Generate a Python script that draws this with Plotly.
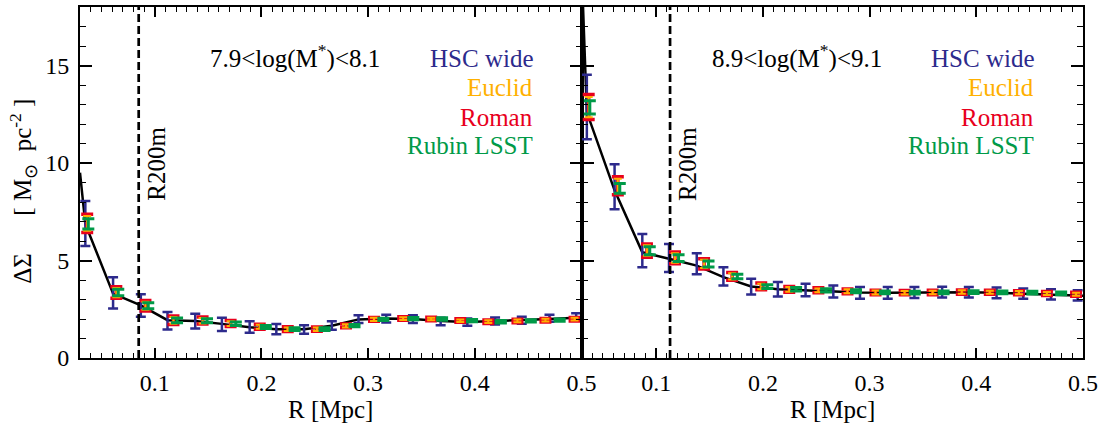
import plotly.graph_objects as go
from plotly.subplots import make_subplots

# ---------------- data ----------------
R = [0.035, 0.061, 0.087, 0.112, 0.138, 0.163, 0.189, 0.214, 0.240, 0.266,
     0.291, 0.317, 0.342, 0.368, 0.393, 0.419, 0.444, 0.470, 0.495]
R_model = [0.030] + R + [0.500]

# panel 1: 7.9<log(M*)<8.1
model_1 = [9.5, 6.87, 3.30, 2.70, 1.94, 1.90, 1.75, 1.58, 1.48, 1.47, 1.65,
           1.98, 2.02, 2.00, 1.90, 1.85, 1.90, 1.94, 2.00, 2.07, 2.10]
hsc_1 = [6.90, 3.34, 2.69, 1.91, 1.89, 1.72, 1.59, 1.48, 1.46, 1.67, 1.99,
         2.02, 1.99, 1.87, 1.84, 1.90, 1.94, 2.04, 2.11]
hsc_1_err = [1.15, 0.80, 0.58, 0.45, 0.38, 0.34, 0.30, 0.26, 0.22, 0.22, 0.20,
             0.20, 0.20, 0.19, 0.19, 0.18, 0.18, 0.18, 0.18]
roman_1 = [6.90, 3.36, 2.68, 1.94, 1.92, 1.77, 1.60, 1.48, 1.48, 1.65, 1.98,
           2.02, 2.00, 1.92, 1.86, 1.90, 1.94, 1.99, 2.07]
roman_1_err = [0.47, 0.30, 0.27, 0.22, 0.18, 0.15, 0.13, 0.12, 0.11, 0.10, 0.10,
               0.09, 0.09, 0.09, 0.09, 0.09, 0.09, 0.09, 0.09]
euclid_1 = [6.90, 3.35, 2.68, 1.93, 1.91, 1.76, 1.60, 1.48, 1.47, 1.65, 1.98,
            2.02, 2.00, 1.91, 1.86, 1.90, 1.94, 1.99, 2.07]
euclid_1_err = [0.38, 0.24, 0.21, 0.17, 0.14, 0.12, 0.10, 0.09, 0.09, 0.08, 0.08,
                0.07, 0.07, 0.07, 0.07, 0.07, 0.07, 0.07, 0.07]
rubin_1 = [6.88, 3.36, 2.68, 1.93, 1.91, 1.76, 1.59, 1.48, 1.48, 1.66, 1.98,
           2.02, 2.00, 1.92, 1.86, 1.90, 1.94, 1.99, 2.07]
rubin_1_err = [0.26, 0.17, 0.15, 0.12, 0.10, 0.09, 0.08, 0.07, 0.07, 0.06, 0.06,
               0.06, 0.06, 0.06, 0.06, 0.06, 0.06, 0.06, 0.06]

# panel 2: 8.9<log(M*)<9.1
model_2 = [20.2, 12.6, 8.60, 5.42, 5.09, 4.74, 4.15, 3.67, 3.53, 3.48, 3.42,
           3.36, 3.35, 3.36, 3.37, 3.37, 3.34, 3.30, 3.26, 3.21, 3.19]
hsc_2 = [12.87, 8.78, 5.51, 5.13, 4.83, 4.19, 3.66, 3.53, 3.49, 3.41, 3.34,
         3.34, 3.36, 3.38, 3.37, 3.34, 3.30, 3.26, 3.21]
hsc_2_err = [1.65, 1.15, 0.85, 0.72, 0.54, 0.47, 0.40, 0.37, 0.32, 0.31, 0.30,
             0.30, 0.28, 0.28, 0.27, 0.27, 0.26, 0.26, 0.26]
roman_2 = [12.87, 8.83, 5.51, 5.13, 4.83, 4.19, 3.67, 3.52, 3.47, 3.42, 3.36,
           3.35, 3.36, 3.38, 3.37, 3.35, 3.31, 3.27, 3.22]
roman_2_err = [0.64, 0.46, 0.34, 0.30, 0.26, 0.20, 0.17, 0.15, 0.13, 0.12, 0.12,
               0.11, 0.11, 0.11, 0.10, 0.10, 0.10, 0.10, 0.10]
euclid_2 = [12.87, 8.82, 5.51, 5.13, 4.83, 4.19, 3.67, 3.52, 3.47, 3.42, 3.36,
            3.35, 3.36, 3.38, 3.37, 3.35, 3.31, 3.27, 3.22]
euclid_2_err = [0.52, 0.37, 0.27, 0.24, 0.21, 0.16, 0.14, 0.12, 0.10, 0.10, 0.10,
                0.09, 0.09, 0.09, 0.08, 0.08, 0.08, 0.08, 0.08]
rubin_2 = [12.85, 8.70, 5.50, 5.12, 4.82, 4.18, 3.66, 3.52, 3.47, 3.42, 3.36,
           3.35, 3.36, 3.38, 3.37, 3.35, 3.31, 3.27, 3.22]
rubin_2_err = [0.34, 0.25, 0.20, 0.17, 0.15, 0.12, 0.10, 0.09, 0.08, 0.08, 0.07,
               0.07, 0.07, 0.07, 0.07, 0.07, 0.07, 0.07, 0.07]

R200m = [0.085, 0.113]
bin_labels = ["7.9<log(M<sup>*</sup>)<8.1", "8.9<log(M<sup>*</sup>)<9.1"]
survey_names = ["HSC wide", "Euclid", "Roman", "Rubin LSST"]
x_ticks = [0.1, 0.2, 0.3, 0.4, 0.5]
y_ticks = [0, 5, 10, 15]

# ---------------- style ----------------
C_HSC = "#2D2A8C"
C_EUC = "#FFB000"
C_ROM = "#E8001C"
C_RUB = "#009A48"
FONT = "Liberation Serif, Times New Roman, serif"
TS = 25
SHIFT_ROM = 1.05
SHIFT_RUB = 1.08

fig = make_subplots(rows=1, cols=2, horizontal_spacing=0)

panels = [
    (model_1, hsc_1, hsc_1_err, roman_1, roman_1_err, euclid_1, euclid_1_err, rubin_1, rubin_1_err),
    (model_2, hsc_2, hsc_2_err, roman_2, roman_2_err, euclid_2, euclid_2_err, rubin_2, rubin_2_err),
]

R_rom = [r * SHIFT_ROM for r in R]
R_rub = [r * SHIFT_RUB for r in R]


def ebar(x, y, err, color, thick, width):
    return go.Scatter(
        x=x, y=y, mode="markers",
        marker=dict(size=1, color=color),
        error_y=dict(type="data", array=err, color=color, thickness=thick, width=width),
        showlegend=False, hoverinfo="skip",
    )


for i, (mod, h, he, ro, roe, eu, eue, ru, rue) in enumerate(panels):
    col = i + 1
    fig.add_trace(go.Scatter(x=R_model, y=mod, mode="lines",
                             line=dict(color="black", width=2.5),
                             showlegend=False, hoverinfo="skip"), row=1, col=col)
    fig.add_trace(ebar(R, h, he, C_HSC, 2.5, 5), row=1, col=col)
    fig.add_trace(ebar(R_rom, ro, roe, C_ROM, 3.5, 6), row=1, col=col)
    fig.add_trace(ebar(R_rom, eu, eue, C_EUC, 2, 4), row=1, col=col)
    fig.add_trace(ebar(R_rub, ru, rue, C_RUB, 3, 6), row=1, col=col)

    xa = "x" if col == 1 else "x2"
    ya = "y" if col == 1 else "y2"
    # R200m dashed line
    fig.add_trace(go.Scatter(x=[R200m[i], R200m[i]], y=[0, 18], mode="lines",
                             line=dict(color="black", width=2.7, dash="8px,4px"),
                             showlegend=False, hoverinfo="skip"), row=1, col=col)
    fig.add_annotation(x=R200m[i], y=9.95, xref=xa, yref=ya, text="R200m",
                       textangle=-90, showarrow=False, xshift=18,
                       font=dict(family=FONT, size=TS, color="black"))
    # bin label
    fig.add_annotation(x=0.256, y=0.858, xref=xa + " domain", yref=ya + " domain",
                       text=bin_labels[i], showarrow=False, xanchor="left", yanchor="middle",
                       font=dict(family=FONT, size=TS, color="black"))
    # survey labels
    for name, c, yy in zip(survey_names, [C_HSC, C_EUC, C_ROM, C_RUB],
                           [0.854, 0.771, 0.686, 0.606]):
        fig.add_annotation(x=0.907, y=yy, xref=xa + " domain", yref=ya + " domain",
                           text=name, showarrow=False, xanchor="right", yanchor="middle",
                           font=dict(family=FONT, size=TS, color=c))
    # x-axis title
    fig.add_annotation(x=0.5, y=-0.147, xref=xa + " domain", yref="paper",
                       text="R [Mpc]", showarrow=False, xanchor="center", yanchor="middle",
                       font=dict(family=FONT, size=TS, color="black"))

# y-axis title
NB = "\u00a0"
fig.add_annotation(x=-0.057, y=0.476, xref="paper", yref="paper",
                   text="ΔΣ" + NB * 6 + "[ M<sub>⊙</sub>" + NB * 2 + "pc<sup>-2</sup> ]",
                   textangle=-90, showarrow=False, xanchor="center", yanchor="middle",
                   font=dict(family=FONT, size=TS, color="black"))

axis_common = dict(showline=True, linecolor="black", linewidth=2, mirror="ticks",
                   ticks="inside", tickcolor="black", showgrid=False, zeroline=False,
                   tickfont=dict(family=FONT, size=24, color="black"))

for xa in ["xaxis", "xaxis2"]:
    fig.update_layout(**{xa: dict(axis_common, range=[0.03, 0.5], tickvals=x_ticks,
                                  ticktext=[str(v) for v in x_ticks], ticklen=10, tickwidth=1.5,
                                  ticklabelstandoff=2,
                                  minor=dict(ticks="inside", dtick=0.01, tick0=0,
                                             ticklen=5, tickwidth=1.2, tickcolor="black",
                                             showgrid=False))})
for ya, show in [("yaxis", True), ("yaxis2", False)]:
    fig.update_layout(**{ya: dict(axis_common, range=[0, 18], tickvals=y_ticks,
                                  showticklabels=show, ticklen=12, tickwidth=1.5,
                                  ticklabelstandoff=4,
                                  minor=dict(ticks="inside", dtick=1, tick0=0,
                                             ticklen=6, tickwidth=1.2, tickcolor="black",
                                             showgrid=False))})

fig.update_layout(width=1105, height=429,
                  margin=dict(l=80, r=22, t=5, b=71),
                  paper_bgcolor="white", plot_bgcolor="white",
                  font=dict(family=FONT, size=24, color="black"),
                  showlegend=False)

fig.write_html("out.html", config={"displayModeBar": False},
               post_script="document.body.style.margin='0';document.body.style.overflow='hidden';")
